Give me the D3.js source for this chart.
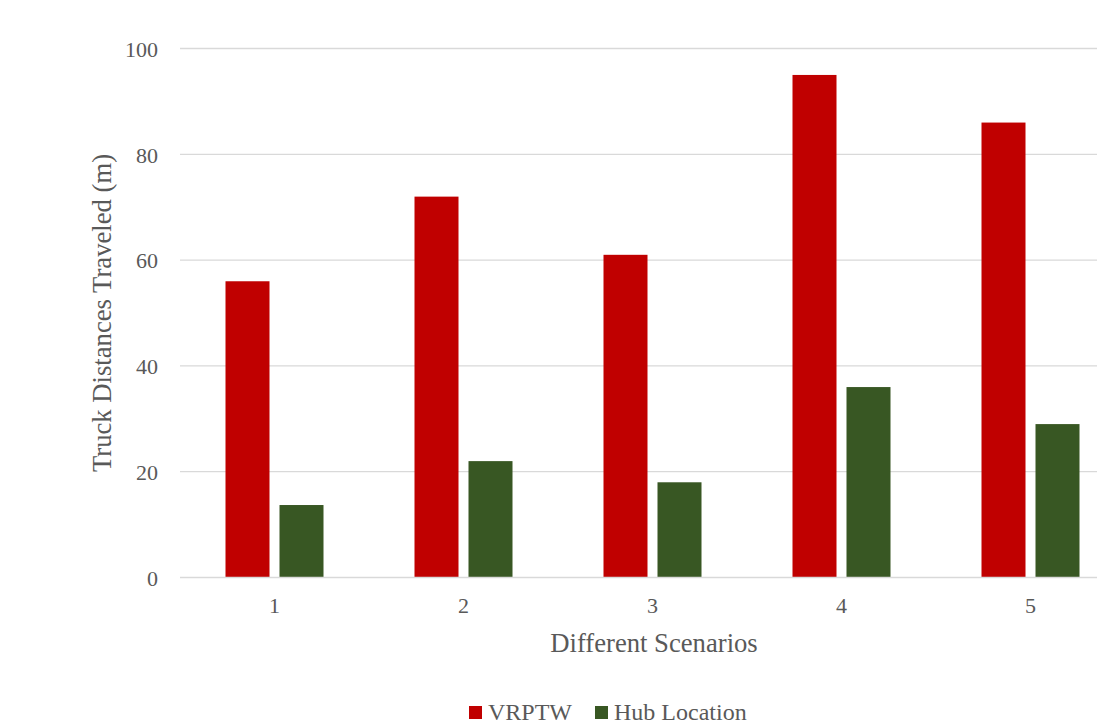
<!DOCTYPE html>
<html>
<head>
<meta charset="utf-8">
<script src="https://cdn.jsdelivr.net/npm/d3@7"></script>
<style>
  body { margin: 0; background: #fff; }
  svg text { font-family: "Liberation Serif", "Times New Roman", serif; fill: #595959; }
</style>
</head>
<body>
<svg id="chart" width="1097" height="726"></svg>
<script>
// Scenario data: truck distances for each routing approach
const scenarios = ["1", "2", "3", "4", "5"];
const seriesNames = ["VRPTW", "Hub Location"];
const vrptw = [56, 72, 61, 95, 86];
const hubLocation = [13.7, 22, 18, 36, 29];
const yTicks = [0, 20, 40, 60, 80, 100];
const colors = ["#C00000", "#385723"];

const svg = d3.select("#chart");
const plotLeft = 180, plotRight = 1125, plotTop = 48.5, plotBottom = 577.5;

const x0 = d3.scaleBand().domain(scenarios).range([plotLeft, plotRight]).paddingInner(0).paddingOuter(0);
const x1 = d3.scaleBand().domain(seriesNames).range([0, x0.bandwidth()])
  .paddingInner(10 / 54).paddingOuter(0.8426);
const y = d3.scaleLinear().domain([0, 100]).range([plotBottom, plotTop]);

// Horizontal gridlines
svg.append("g")
  .selectAll("line")
  .data(yTicks.filter(d => d > 0))
  .join("line")
  .attr("x1", plotLeft).attr("x2", plotRight)
  .attr("y1", d => y(d)).attr("y2", d => y(d))
  .attr("stroke", "#d9d9d9").attr("stroke-width", 1.3);

// Bars
const rows = scenarios.map((s, i) => ({ s, vals: [vrptw[i], hubLocation[i]] }));
svg.append("g")
  .selectAll("g")
  .data(rows)
  .join("g")
  .attr("transform", d => `translate(${x0(d.s)},0)`)
  .selectAll("rect")
  .data(d => d.vals.map((v, k) => ({ k, v })))
  .join("rect")
  .attr("x", d => x1(seriesNames[d.k]))
  .attr("width", x1.bandwidth())
  .attr("y", d => y(d.v))
  .attr("height", d => y(0) - y(d.v))
  .attr("fill", d => colors[d.k]);

// Baseline
svg.append("line")
  .attr("x1", plotLeft).attr("x2", plotRight)
  .attr("y1", y(0)).attr("y2", y(0))
  .attr("stroke", "#d9d9d9").attr("stroke-width", 1.5);

// Y axis labels
const yAxis = svg.append("g")
  .attr("transform", `translate(${plotLeft - 22},0)`)
  .call(d3.axisLeft(y).tickValues(yTicks).tickSize(0).tickPadding(0));
yAxis.select(".domain").remove();
yAxis.selectAll("text")
  .attr("font-size", 22)
  .attr("dy", "0.35em")
  .style("font-family", "'Liberation Serif', serif")
  .attr("fill", "#595959");

// X axis labels
const xAxis = svg.append("g")
  .attr("transform", `translate(0,${plotBottom})`)
  .call(d3.axisBottom(x0).tickSize(0).tickPadding(0));
xAxis.select(".domain").remove();
xAxis.selectAll("text")
  .attr("font-size", 22)
  .attr("y", 35.5)
  .attr("dy", 0)
  .style("font-family", "'Liberation Serif', serif")
  .attr("fill", "#595959");

// Axis titles
svg.append("text")
  .attr("x", 654).attr("y", 652)
  .attr("text-anchor", "middle")
  .attr("font-size", 26.67)
  .text("Different Scenarios");

svg.append("text")
  .attr("transform", `translate(111,${(plotTop + plotBottom) / 2}) rotate(-90)`)
  .attr("text-anchor", "middle")
  .attr("font-size", 26.67)
  .text("Truck Distances Traveled (m)");

// Legend
const legend = svg.append("g").attr("transform", "translate(469,712.5)");
const legendX = [0, 126];
seriesNames.forEach((name, i) => {
  const g = legend.append("g").attr("transform", `translate(${legendX[i]},0)`);
  g.append("rect").attr("x", 0).attr("y", -6.5).attr("width", 13).attr("height", 13).attr("fill", colors[i]);
  g.append("text").attr("x", 19).attr("y", 7).attr("font-size", 24).text(name);
});
</script>
</body>
</html>
